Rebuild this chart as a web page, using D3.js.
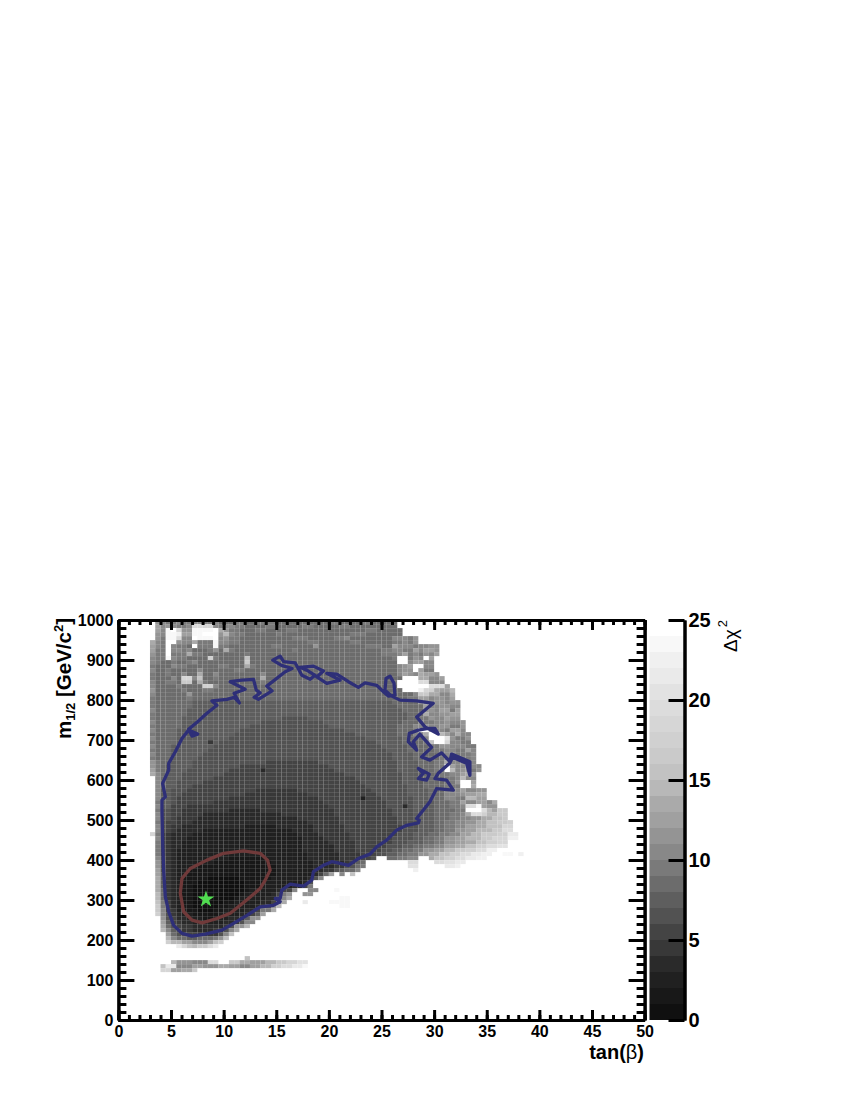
<!DOCTYPE html>
<html><head><meta charset="utf-8">
<style>html,body{margin:0;background:#fff}svg{display:block}text{font-family:"Liberation Sans",Arial,sans-serif}</style>
<script src="https://cdn.jsdelivr.net/npm/d3@7"></script></head>
<body><svg id="c" width="850" height="1100"></svg>
<script>
// Grey level of each unit of delta-chi2, 0-1 up to 24-25
const levels = ["#101010","#181818","#202020","#2a2a2a","#383838","#444444","#525252","#5e5e5e","#6c6c6c","#7a7a7a","#888888","#949494","#a0a0a0","#aaaaaa","#b8b8b8","#c2c2c2","#cacaca","#d0d0d0","#d6d6d6","#dcdcdc","#e2e2e2","#eaeaea","#f0f0f0","#f8f8f8","#ffffff"];
// Heat map. One string per m1/2 bin (10 GeV), from 990 GeV down.
// Each token is: first tan-beta bin (0.5 wide) + level letter (a = 0-1 ... y = 24-25), "." = empty.
const heatRows = [
"7l8k9j11k12j14k16j18k19i22j24i26j30i40j42i46j48i53.",
"7m8k9l10k11j13k14t16s18k19j20k22j24i28j30i35j37i42j44i53.",
"7m8k9x10y11s12l14x18y19n20l21j23i26j28i32j34i47j49i54.",
"7l8k9x11w12m14x16y18y19l20o21k22j24i30j31i44j47i54.",
"7l8j9x11t12k14y15x18y19k20l21j23i33j36i41j43k44i52k54k55j56l57.",
"6n7k8j9y11l12k14n15j18x19k21j23i36j38i44j46i52j54k55j56l57.",
"6m7k8j9y10k11j13i14y15j18x19j21i29j31i37l38i47j50i52m53k56j57k59l61.",
"6m7j8j9y10k12j13k14i17j18l19i20n21j22i33j34i50j52k54j56m57k58m60l61.",
"6l7j9y10j13n14j16i24j25i48i50j53k54m55j56k57j58l59k60m61.",
"6k7j9x10k11j13i17r18j19i24p25i46i52j53y55j56l57k58y59m60.",
"6k7j8i10j11i13j14k15i24q25i47i53y55k56m58k60.",
"6j7i10k11j13i19j21i24n25j26i52i53k54l55m56y58k60.",
"6k7i9j10i15k16i22j24i51i53k54l56y57m58j60.",
"6j7i9j10i12k13i15n16i18k19i27k28i52i53k54m55l56k57n58m60l61.",
"6j7i10k11i12s14k15p16i18j19i27n28i52i54y57n59k61m62.",
"6k7i9j11i12q14i15n16j17i27j28i51i52j53y57t59k60k62.",
"6k7i11j12i16r18k19i52i53y59t62m63.",
"6l7i12j13i16j18i53i54y57w58s59r60n61m63o64.",
"6k7i13l14i52i56k57q59n61k63n64.",
"6j7i13j14i52i55j57m59k60l62k63m64.",
"6j7i14h52i57l58k60l62k63l65.",
"6j7i14h53i58m59k61l63k65.",
"6k7i13h54i58l60k61m63j64m65.",
"6j7i13h55i58n59k61l63m65.",
"6j7i12h31g36h55i57j59l60k62m63l65.",
"6k7i12h27g39h54i57k58j60k62l63k65l66.",
"6j7i12h25g40h53i56k58l59k61l63j65l66.",
"6k7i11h23g43h53i56j57y59o60k62j63m65k66.",
"6j7i11h22g45h53i56k58n59y61o62m63k64n65k67.",
"6k7i11h21g47h54i58k59y62u63l64j66l67.",
"6j7i11h17e18h19g49h54i58j59p60y62s63k65j67.",
"6k7i10h18g50h55i59j61l63k66j68.",
"6j7i10h17g51h55i60j62k64j66m67k68.",
"6k7i10h16g52h56i61j62k64j67k68.",
"6j7i10h15g52h56i61j63l65j67k68.",
"6l7j8i10h14g28f38g53h57i60j62n63k65l66k68.",
"6l7j8i9h14g23f40g53h57i60j62y63m64k66m67k69.",
"6m7j8i9h13g21f27d28f41g53h57i60j62y63o64k65l67j68l69.",
"6n7k8i9h12g20f43g54h58i61j63k65m66n67l68.",
"7k8i9h12g18f45g54h58i62j64k65o66k68.",
"7k8i9h11g16f46g54h58i62j64l65y67m68.",
"7k8i9h11g14f47g55h58i62j65y67n68.",
"7k8h10g13f26e34f48g55h59i62k65m66k68l70.",
"7k8h10g12f24e36f49g55h59i62k65l66m68n70.",
"7k8h10g11f21e38f46c47f50g56h59i62k64j66o68m70.",
"7j8h10g11f18e39f51g56h60i63j65m66k68m70k71n72.",
"7k8h10f13e40f51g54d55g56h60i63j65k66t68x69m70l72.",
"7j8g10f12e21d27e41f52g56h60i64j66y69t70o71m72q74.",
"7k8g10f12e16d31e41f52g56h60i63j65k66n67t69r70o72q74.",
"7k8g10f11e15d34e42f53g56h60i63j65k67l69n71p73q74.",
"7j8g9f11e14d36e42f53g57h60i62j64k66l68n70p72q74r75.",
"7k8g9f10e12d24c30d37e43f54g57h60i62j64k66m68n70p73s75.",
"7k8g9f10e11d16c33d37e43f54g57h60i62j64l66m68o71q73t75.",
"6s7j8f9e10d14c34d38e44f53g56h59i61j63k65m67o69q72r74v76.",
"7k8f9e10d13c35d39e44f52g56h58i60j62l64m66o69q71s74w76.",
"7j8f9e10d12c35d40e45f52g55h58i60j62l64m66n68p70r72s74.",
"7j8f9e10d12c35d41e45f51g54h56i58j60k62m64n66p68r70t72u74.",
"7j8f9e10d11c35d41e45f50g52h54i56j58l60m62o64q66r68t70w72y74.",
"7j8f9e10d11c36d42e46f49g51h53i55j57l59n61p63r65t67v69w71.73x75y76w77.",
"7k8g9e10d11c21b28c36d42e46f48g49.51i53j55k57.59n60p62r64t66v68w70.",
"7l8g9e10d11c18b29c37d43e44f45h46i47.55t57.60t62u64v66.",
"7l8g9e10d11c15b30c37d41e43g45i46j47.55u57.62v64w65.",
"7m8g9e10d11c13b30c37d39e41g42h43i45k46.56w57.",
"7m8h9e10d11c13b30c37d38f39i40m41.42k43.44p45.",
"7n8h9e10d11c12b17a23b29c36d37g38k39.",
"7n8h9e10d11c12b15a24b28c35d36g37.",
"7n8h9e10d11c12b14a24b27c33d35f36j37.",
"7n8i9e10d11c12b14a24b25c30d31f33k34.36k38.41x42.",
"7o8i9e10d11c12b14a23b24c29d30f31j32l33.35l37.",
"7o8i9e10d11c12b14a22b23c28d30g31k32n33.42x44.",
"7p8j9f10d11c12b14a20b22c27d29f30j31n32.35v36.40x44.",
"7q8j9f10d11c12b14a19b21c26d28g29l30o31.40y42x44.",
"7q8k9f10e11c13b15a18b20c24d26f27j29n30.",
"7r8k9g10e11d12c14b19c23d25f26h27m28.",
"8l9g10f11d13c16b18c21d23e24h25l27.",
"8m9h10f11e12d14c20d22e23g24k26.",
"8n9i10g11f12e14d20e21g22l24o25.",
"8o9k10h11g12e14d18e20g21k22n23.",
"9m10i11g13f15e19g20k21p22.",
"9o10k11i13h15i18j19l20p21.",
"9r10o12m14k17m18p19r20.",
"11v12s13p14o15q17t18v19.",
"",
"",
"24p25.",
"10o11l14k17t19.21q23n25m28o30q32s34u36.",
"8p9v11k14m16l19n21m23k25m27o29r31t33v35x36.",
"8s10m12n14q15.",
];
// 95% contour (tan-beta, m1/2)
const contour95Tan = [4.14,4.14,4.46,4.2,4.78,4.78,5.41,6.04,6.67,7.53,6.99,6.67,7.53,8.41,9.36,8.89,10.31,11,11.5,11,12.05,10.63,11.73,12.84,13.1,13.47,12.9,13.3,14.6,14.1,15.85,16.5,15.5,14.67,15.37,15.7,16.8,17.43,18.22,18.69,17.9,17.27,18.53,19.48,18.85,19.8,21.07,19.8,20.75,21.86,22.8,23.44,24.54,25.34,25.65,26.28,26.19,25.81,25.43,25.33,25.97,26.76,28.34,29.92,29.45,28.34,29.13,30.39,30.08,29.29,28.5,27.64,27.55,28.34,28.02,28.65,29.76,28.81,29.6,30.71,31.5,31.66,33.4,33.4,33.08,31.75,31.5,30.39,30.08,31.18,31.82,30.24,29.6,28.34,28.59,28.5,27.39,26.44,25.49,24.54,23.91,22.8,21.86,21.07,20.27,19.48,18.53,18.38,17.59,16.32,15.53,15.37,14.9,15.37,14.74,13.47,12.21,10.94,9.84,8.26,6.99,6.04,5.25,4.78,4.46,4.3,4.21,4.14];
const contour95M = [525,550,558,592,625,642,671,704,725,715,710,727,746,767,787,798,802,807,793,817,827,846,850,852,825,818,807,802,823,835,871,879,887,900,910,896,893,862,852,862,875,882,885,873,858,842,850,867,865,846,832,843,837,817,810,812,842,860,854,825,810,800,798,792,782,758,733,715,729,729,725,717,696,675,696,715,682,658,650,668,646,665,646,612,642,657,643,617,604,600,575,579,546,504,500,493,487,475,450,433,415,404,387,392,396,387,371,350,335,340,325,304,304,296,287,283,262,242,225,215,210,217,237,271,308,375,442,525];
const island95Tan = [28.5,29.54,29.29,28.5,28.97,28.5];
const island95M = [629,615,600,604,617,629];
// 68% contour
const contour68Tan = [6.83,6.04,5.88,6.2,6.99,7.94,9.36,10.63,11.58,12.53,13.47,13.95,14.42,14.17,13.47,11.89,10,8.41,6.83];
const contour68M = [379,354,317,271,250,243,254,267,287,308,329,350,375,400,417,423,417,400,379];
const bestFit = [8.32,302];
const xMajor = [0,5,10,15,20,25,30,35,40,45,50];
const yMajor = [0,100,200,300,400,500,600,700,800,900,1000];
const zMajor = [0,5,10,15,20,25];
const xMinor = d3.range(0,51,1);
const yMinor = d3.range(0,1001,20);

const svg = d3.select("#c");
const x = d3.scaleLinear().domain([0,50]).range([118.4,644.6]);
const y = d3.scaleLinear().domain([0,1000]).range([1020.12,620.12]);
const z = d3.scaleLinear().domain([0,25]).range([1020,620]);
const colour = d3.scaleQuantize().domain([0,25]).range(levels);

// heat map
const cells = [];
heatRows.forEach((row,i)=>{
  const m = (99-i)*10;
  const t = [...row.matchAll(/(\d+)([a-y.])/g)];
  t.forEach((k,j)=>{
    if(k[2]===".") return;
    const s=+k[1], e=j+1<t.length?+t[j+1][1]:100;
    for(let c=s;c<e;c++) cells.push({tan:c*0.5,m,v:k[2].charCodeAt(0)-97+0.5});
  });
});
svg.append("g").selectAll("rect").data(cells).join("rect")
  .attr("x",d=>x(d.tan)).attr("width",d=>x(d.tan+0.5)-x(d.tan))
  .attr("y",d=>y(d.m+10)).attr("height",d=>y(d.m)-y(d.m+10))
  .attr("fill",d=>colour(d.v));

// contours
const line = d3.line().x(d=>x(d[0])).y(d=>y(d[1]));
const contour = (a,b,c)=>svg.append("path").attr("d",line(d3.zip(a,b))).attr("fill","none")
  .attr("stroke",c).attr("stroke-width",3.3).attr("stroke-linejoin","round").attr("stroke-linecap","round");
contour(contour95Tan,contour95M,"#2e2f78");
contour(island95Tan,island95M,"#2e2f78");
contour(contour68Tan,contour68M,"#703a3a");
svg.append("path").attr("d",d3.symbol(d3.symbolStar,88)())
  .attr("transform",`translate(${x(bestFit[0])},${y(bestFit[1])})`).attr("fill","#50dc50");

// axes
function style(g,size){
  g.selectAll("path.domain").attr("stroke","#000").attr("stroke-width",3);
  g.selectAll("line").attr("stroke","#000").attr("stroke-width",3);
  g.selectAll("text").attr("font-size",size).attr("font-weight","bold").attr("fill","#000");
}
const X0=x(0),X1=x(50),Y0=1020,Y1=620;
const fmt=d3.format("d");
const yFrame=d3.scaleLinear().domain([0,1000]).range([Y0,Y1]);
[[d3.axisBottom,Y1],[d3.axisTop,Y0]].forEach(([ax,pos])=>{
  svg.append("g").attr("transform",`translate(0,${pos})`).call(ax(x).tickValues(xMinor).tickSize(5).tickSizeOuter(0).tickFormat("")).call(style,15);
  svg.append("g").attr("transform",`translate(0,${pos})`).call(ax(x).tickValues(xMajor).tickSize(10).tickSizeOuter(0).tickFormat("")).call(style,15);
});
[[d3.axisRight,X0],[d3.axisLeft,X1]].forEach(([ax,pos])=>{
  svg.append("g").attr("transform",`translate(${pos},0)`).call(ax(yFrame).tickValues(yMinor).tickSize(8).tickSizeOuter(0).tickFormat("")).call(style,15);
  svg.append("g").attr("transform",`translate(${pos},0)`).call(ax(yFrame).tickValues(yMajor).tickSize(16).tickSizeOuter(0).tickFormat("")).call(style,15);
});
// tick labels
svg.append("g").attr("transform",`translate(0,${Y0})`).call(d3.axisBottom(x).tickValues(xMajor).tickSize(0).tickPadding(6).tickSizeOuter(0).tickFormat(fmt))
  .call(g=>g.select("path.domain").remove()).call(style,16);
svg.append("g").attr("transform",`translate(${X0},0)`).call(d3.axisLeft(yFrame).tickValues(yMajor).tickSize(0).tickPadding(5).tickSizeOuter(0).tickFormat(fmt))
  .call(g=>g.select("path.domain").remove()).call(style,16);

// colour bar
svg.append("g").selectAll("rect").data(levels).join("rect")
  .attr("x",649.5).attr("width",34.5)
  .attr("y",(d,i)=>z(i+1)).attr("height",(d,i)=>z(i)-z(i+1)).attr("fill",d=>d);
svg.append("g").attr("transform","translate(684.5,0)")
  .call(d3.axisRight(z).tickValues(zMajor).tickSize(0).tickPadding(4).tickSizeOuter(0).tickFormat(fmt)).call(style,20);
svg.append("g").attr("transform","translate(684.5,0)")
  .call(d3.axisLeft(z).tickValues(zMajor).tickSize(16).tickSizeOuter(0).tickFormat("")).call(style,20);

// titles
const tanT=svg.append("text").attr("x",644).attr("y",1059).attr("text-anchor","end").attr("font-size",20).attr("font-weight","bold").attr("fill","#000");
tanT.append("tspan").text("tan(");
tanT.append("tspan").attr("font-weight","normal").text("β");
tanT.append("tspan").text(")");
const yT=svg.append("text").attr("transform","translate(71,618) rotate(-90)").attr("text-anchor","end").attr("font-size",20.5).attr("font-weight","bold").attr("fill","#000");
yT.append("tspan").text("m");
yT.append("tspan").attr("font-size",13).attr("dy",4).text("1/2");
yT.append("tspan").attr("dy",-4).text(" [GeV/c");
yT.append("tspan").attr("font-size",13).attr("dy",-8).text("2");
yT.append("tspan").attr("dy",8).text("]");
const zT=svg.append("text").attr("transform","translate(737,620) rotate(-90)").attr("text-anchor","end").attr("font-size",19).attr("fill","#000");
zT.append("tspan").text("Δχ");
zT.append("tspan").attr("font-size",13).attr("dx",2).attr("dy",-10).text("2");
</script></body></html>
